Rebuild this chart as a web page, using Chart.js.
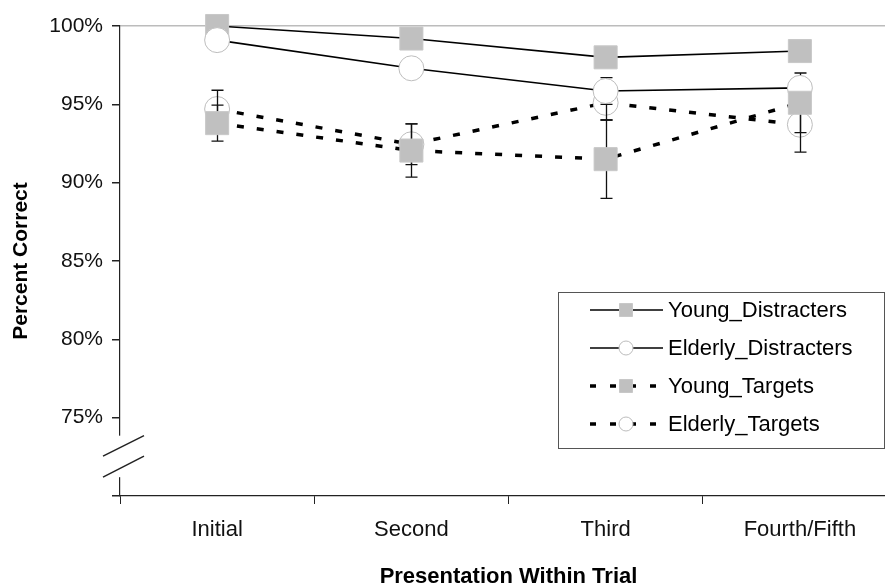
<!DOCTYPE html>
<html>
<head>
<meta charset="utf-8">
<script src="https://cdn.jsdelivr.net/npm/chart.js@4.4.1/dist/chart.umd.min.js"></script>
<style>
  html, body { margin: 0; padding: 0; background: #fff; overflow: hidden; }
  #wrap { width: 885px; height: 588px; }
</style>
</head>
<body>
<div id="wrap"><canvas id="chart-recall" width="885" height="588"></canvas></div>
<script>
// categories on the x axis
const categories = ['Initial', 'Second', 'Third', 'Fourth/Fifth'];

// percent correct
const youngDistracters   = [100.0, 99.2, 98.0, 98.4];
const elderlyDistracters = [99.1, 97.3, 95.85, 96.05];
const youngTargets       = [93.8, 92.05, 91.5, 95.1];
const elderlyTargets     = [94.7, 92.45, 95.1, 93.7];

// error bar half-widths (null = none visible)
const youngDistractersErr   = [null, null, null, null];
const elderlyDistractersErr = [null, null, 0.85, null];
const youngTargetsErr       = [1.15, 1.7, 2.5, 1.9];
const elderlyTargetsErr     = [1.2, 1.3, 1.1, 1.75];

const yTicks = [70, 75, 80, 85, 90, 95, 100];

const FONT = '"Liberation Sans", Arial, sans-serif';

// the original plot area runs a little past the right edge of the picture
const widenPlot = {
	id: 'widenPlot',
	afterLayout(chart, args, opts) {
		const x = chart.scales.x;
		const area = chart.chartArea;
		area.right = opts.right;
		area.width = area.right - area.left;
		x.right = opts.right;
		x.width = x.right - x.left;
		x.configure();
	}
};

// error bars are drawn right before Young_Distracters (dataset 0),
// i.e. above Elderly_Targets circles but under the other markers
const errorBars = {
	id: 'errorBars',
	beforeDatasetDraw(chart, args) {
		if (args.index !== 0) return;
		const ctx = chart.ctx;
		const y = chart.scales.y;
		ctx.save();
		ctx.strokeStyle = '#111';
		ctx.lineWidth = 1.3;
		chart.data.datasets.forEach((ds, i) => {
			const meta = chart.getDatasetMeta(i);
			ds.errors.forEach((e, j) => {
				if (e == null) return;
				const px = Math.round(meta.data[j].x) + 0.5;
				const top = y.getPixelForValue(ds.data[j] + e);
				const bot = y.getPixelForValue(ds.data[j] - e);
				ctx.beginPath();
				ctx.moveTo(px, top); ctx.lineTo(px, bot);
				ctx.moveTo(px - 6, top); ctx.lineTo(px + 6, top);
				ctx.moveTo(px - 6, bot); ctx.lineTo(px + 6, bot);
				ctx.stroke();
			});
		});
		ctx.restore();
	}
};

// the "//" break on the value axis below 75%
const axisBreak = {
	id: 'axisBreak',
	afterDraw(chart) {
		const ctx = chart.ctx;
		const y = chart.scales.y;
		const x0 = chart.chartArea.left;
		const ya = y.getPixelForValue(73.85);
		const ym = y.getPixelForValue(72.55);
		const yb = y.getPixelForValue(71.2);
		ctx.save();
		ctx.fillStyle = '#fff';
		ctx.fillRect(x0 - 3, ya, 6, yb - ya);
		ctx.strokeStyle = '#222';
		ctx.lineWidth = 1.5;
		ctx.beginPath();
		ctx.moveTo(x0 - 17, ym); ctx.lineTo(x0 + 24, ya);
		ctx.moveTo(x0 - 17, yb); ctx.lineTo(x0 + 24, ym);
		ctx.stroke();
		ctx.restore();
	}
};

// boxed legend with line + marker glyphs, like the original
const boxLegend = {
	id: 'boxLegend',
	afterDraw(chart, args, opts) {
		const ctx = chart.ctx;
		const left = opts.left, top = opts.top;
		ctx.save();
		ctx.fillStyle = '#fff';
		ctx.fillRect(left, top, opts.width, opts.height);
		ctx.strokeStyle = '#555';
		ctx.lineWidth = 1;
		ctx.strokeRect(left + 0.5, top + 0.5, opts.width, opts.height);
		chart.data.datasets.forEach((ds, i) => {
			const cy = top + opts.firstRow + i * opts.rowGap;
			ctx.strokeStyle = ds.borderColor;
			ctx.lineWidth = ds.borderDash.length ? 3.5 : 1.6;
			ctx.setLineDash(ds.borderDash.length ? [6, 14] : []);
			ctx.beginPath();
			ctx.moveTo(left + 32, cy); ctx.lineTo(left + 105, cy);
			ctx.stroke();
			ctx.setLineDash([]);
			ctx.fillStyle = ds.pointBackgroundColor;
			ctx.strokeStyle = ds.pointBorderColor;
			ctx.lineWidth = 1;
			const mx = left + 68;
			ctx.beginPath();
			if (ds.pointStyle === 'rect') {
				ctx.rect(mx - 6.5, cy - 6.5, 13, 13);
			} else {
				ctx.arc(mx, cy, 7, 0, Math.PI * 2);
			}
			ctx.fill();
			ctx.stroke();
			ctx.fillStyle = '#000';
			ctx.font = '22px ' + FONT;
			ctx.textBaseline = 'middle';
			ctx.textAlign = 'left';
			ctx.fillText(ds.label, left + 110, cy + 1);
		});
		ctx.restore();
	}
};

function squareSeries(label, data, errors, dashed, order) {
	return {
		label: label, data: data, errors: errors, order: order,
		borderColor: '#000', borderWidth: dashed ? 3.5 : 1.6,
		borderDash: dashed ? [7, 13] : [],
		pointStyle: 'rect', pointRadius: 16.3, pointHoverRadius: 16.3,
		pointBackgroundColor: '#c0c0c0', pointBorderColor: '#c8c8c8', pointBorderWidth: 1,
		tension: 0, fill: false, clip: false
	};
}
function circleSeries(label, data, errors, dashed, order) {
	return {
		label: label, data: data, errors: errors, order: order,
		borderColor: '#000', borderWidth: dashed ? 3.5 : 1.6,
		borderDash: dashed ? [7, 13] : [],
		pointStyle: 'circle', pointRadius: 12.5, pointHoverRadius: 12.5,
		pointBackgroundColor: '#fff', pointBorderColor: '#bdbdbd', pointBorderWidth: 1,
		tension: 0, fill: false, clip: false
	};
}

let ctx = document.getElementById('chart-recall');
let chart = new Chart(ctx, {
	type: 'line',
	data: {
		labels: categories,
		datasets: [
			squareSeries('Young_Distracters', youngDistracters, youngDistractersErr, false, 3),
			circleSeries('Elderly_Distracters', elderlyDistracters, elderlyDistractersErr, false, 2),
			squareSeries('Young_Targets', youngTargets, youngTargetsErr, true, 1),
			circleSeries('Elderly_Targets', elderlyTargets, elderlyTargetsErr, true, 4)
		]
	},
	options: {
		responsive: false,
		animation: false,
		events: [],
		layout: { padding: { top: 26, right: 0, left: 0, bottom: 0 } },
		plugins: {
			legend: { display: false },
			tooltip: { enabled: false },
			widenPlot: { right: 897 },
			boxLegend: { left: 558, top: 292, width: 326, height: 156, firstRow: 18, rowGap: 38 }
		},
		scales: {
			x: {
				offset: true,
				grid: { offset: true, drawOnChartArea: false, drawTicks: true, tickLength: 8, tickColor: '#222' },
				border: { color: '#222', width: 1.2 },
				ticks: { color: '#111', padding: 13, font: { family: FONT, size: 22 } },
				title: {
					display: true, text: 'Presentation Within Trial', color: '#000',
					font: { family: FONT, size: 22, weight: 'bold', lineHeight: 1 },
					padding: { top: 0, bottom: 0 }
				},
				afterFit(scale) { scale.height = 92; }
			},
			y: {
				min: 70, max: 100,
				afterBuildTicks(scale) { scale.ticks = yTicks.map(v => ({ value: v })); },
				grid: {
					color: c => (c.tick && c.tick.value === 100) ? '#bcbcbc' : 'rgba(0,0,0,0)',
					lineWidth: 1.5,
					tickLength: 8, tickColor: '#222'
				},
				border: { color: '#222', width: 1.2 },
				ticks: {
					color: '#111', padding: 9, font: { family: FONT, size: 21 },
					callback: v => v === 70 ? '' : v + '%'
				},
				title: {
					display: true, text: 'Percent Correct', color: '#000',
					font: { family: FONT, size: 21, weight: 'bold', lineHeight: 1 },
					padding: { top: 11, bottom: 0 }
				},
				afterFit(scale) { scale.width = 120; }
			}
		}
	},
	plugins: [widenPlot, errorBars, axisBreak, boxLegend]
});
</script>
</body>
</html>
